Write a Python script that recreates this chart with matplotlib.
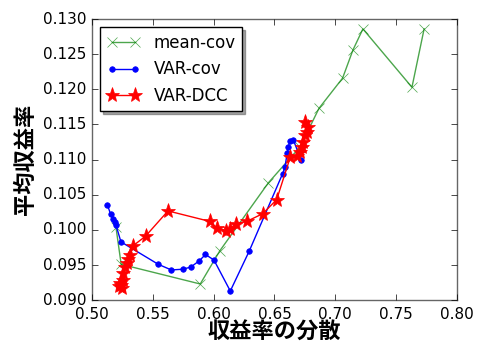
import matplotlib
matplotlib.use('Agg')
import matplotlib.pyplot as plt

# mean-cov
mc_x = [0.5197, 0.5240, 0.5890, 0.6050, 0.6450, 0.6710, 0.6866, 0.7060, 0.7145, 0.7227, 0.7630, 0.7730]
mc_y = [0.1004, 0.0951, 0.0923, 0.0970, 0.1067, 0.1118, 0.1173, 0.1216, 0.1256, 0.1286, 0.1203, 0.1286]

# VAR-cov
vc_x = [0.5126, 0.5154, 0.5175, 0.5187, 0.5197, 0.5238, 0.5545, 0.5652, 0.5745, 0.5811,
        0.5882, 0.5933, 0.6003, 0.6137, 0.6293, 0.6567, 0.6586, 0.6605, 0.6613, 0.6627,
        0.6655, 0.6718]
vc_y = [0.1036, 0.1022, 0.1015, 0.1011, 0.1007, 0.0983, 0.0951, 0.0943, 0.0944, 0.0947,
        0.0956, 0.0965, 0.0957, 0.0913, 0.0970, 0.1080, 0.1089, 0.1110, 0.1118, 0.1126,
        0.1128, 0.1100]

# VAR-DCC
vd_x = [0.5228, 0.5244, 0.5225, 0.5238, 0.5251, 0.5257, 0.5271, 0.5285, 0.5298, 0.5312,
        0.5335, 0.5440, 0.5625, 0.5970, 0.6025, 0.6099, 0.6134, 0.6184, 0.6271, 0.6403,
        0.6518, 0.6631, 0.6682, 0.6710, 0.6723, 0.6737, 0.6751, 0.6765, 0.6778, 0.6751]
vd_y = [0.0925, 0.0917, 0.0920, 0.0921, 0.0928, 0.0938, 0.0947, 0.0953, 0.0959, 0.0964,
        0.0977, 0.0991, 0.1027, 0.1012, 0.1003, 0.0999, 0.1001, 0.1009, 0.1012, 0.1023,
        0.1043, 0.1104, 0.1105, 0.1111, 0.1118, 0.1125, 0.1135, 0.1140, 0.1147, 0.1154]

plt.style.use('classic')
plt.rcParams['font.family'] = ['DejaVu Sans', 'Noto Sans CJK JP']

fig = plt.figure(figsize=(4.79, 3.47), dpi=100, facecolor='white')
ax = fig.add_axes([0.192, 0.135, 0.762, 0.81])

ax.plot(mc_x, mc_y, color='g', marker='x', markersize=7, linewidth=1, alpha=0.7,
        markeredgecolor='g', label='mean-cov')
ax.plot(vc_x, vc_y, color='b', marker='.', markersize=8, linewidth=1,
        markeredgecolor='b', label='VAR-cov')
ax.plot(vd_x, vd_y, color='r', marker='*', markersize=11, linewidth=1,
        markeredgecolor='r', label='VAR-DCC')

ax.set_xlim(0.50, 0.80)
ax.set_ylim(0.090, 0.130)
ax.set_xticks([0.50, 0.55, 0.60, 0.65, 0.70, 0.75, 0.80])
ax.set_yticks([0.090, 0.095, 0.100, 0.105, 0.110, 0.115, 0.120, 0.125, 0.130])
ax.tick_params(labelsize=11)
ax.tick_params(axis='x', pad=5)
for s in ax.spines.values():
    s.set_color('0.4')

ax.set_xlabel('収益率の分散', fontsize=16, fontweight='bold', labelpad=0)
ax.set_ylabel('平均収益率', fontsize=16, fontweight='bold')

ax.legend(loc='upper left', fontsize=12, shadow=True, fancybox=False, numpoints=2)

fig.savefig('out.png', dpi=100, facecolor='white')
